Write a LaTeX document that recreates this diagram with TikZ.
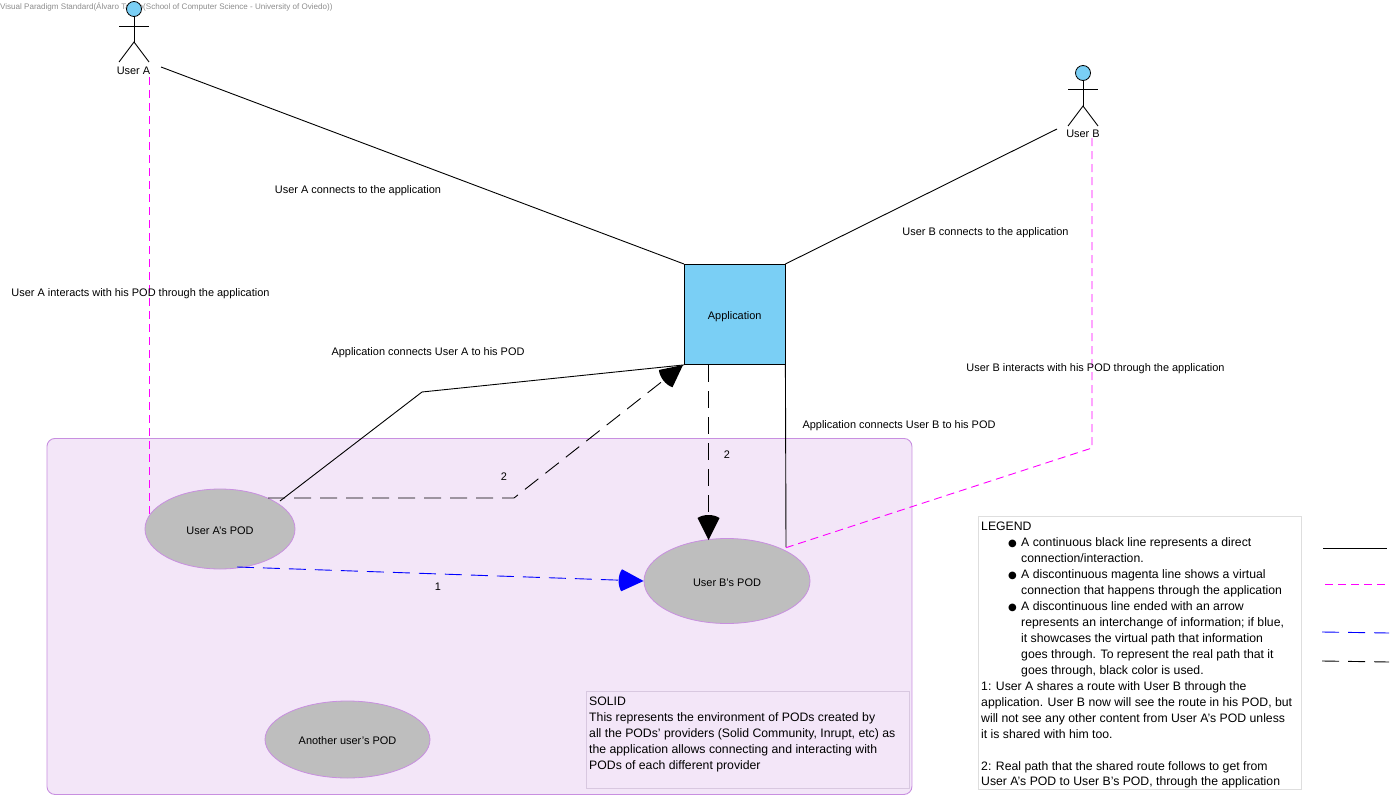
\documentclass[tikz,border=0pt]{standalone}
\usepackage{fontspec}
\setmainfont{Liberation Sans}
\newfontfamily\bulfont{DejaVu Sans}
\usetikzlibrary{arrows.meta,shapes.geometric}
\definecolor{appblue}{HTML}{7ACFF5}
\definecolor{solidfill}{HTML}{F3E6F8}
\definecolor{solidedge}{HTML}{C88FE0}
\definecolor{podfill}{HTML}{BEBEBE}
\definecolor{notedge}{HTML}{D8C8E0}
\definecolor{legedge}{HTML}{DEDEDE}
\definecolor{virt}{HTML}{FF00FF}
\definecolor{wm}{HTML}{8C8C8C}
\pgfdeclarearrow{
  name=Cone,
  setup code={\pgfarrowssettipend{0pt}\pgfarrowssetlineend{-22pt}\pgfarrowssetbackend{-25pt}\pgfarrowssetvisualbackend{-20pt}},
  drawing code={
    \pgfpathmoveto{\pgfpoint{0pt}{0pt}}
    \pgfpathlineto{\pgfpoint{-22pt}{11pt}}
    \pgfpathcurveto{\pgfpoint{-26pt}{5pt}}{\pgfpoint{-26pt}{-5pt}}{\pgfpoint{-22pt}{-11pt}}
    \pgfpathclose
    \pgfusepathqfill
  },
  parameters={1}
}
\tikzset{
  txt/.style={font=\fontsize{10.95}{14}\selectfont, inner sep=0pt, text=black},
  conn/.style={draw=black, line width=0.9pt},
  virtual/.style={draw=virt, line width=0.9pt, dash pattern=on 8pt off 5pt},
  info/.style={line width=0.9pt, dash pattern=on 17pt off 9pt},
  pod/.style={ellipse, draw=solidedge, fill=podfill, line width=0.8pt, inner sep=0pt, font=\fontsize{10.95}{14}\selectfont, text height=10pt, text depth=0pt},
  head/.style={circle, draw=black, fill=appblue, line width=0.8pt, minimum size=15pt, inner sep=0pt},
  limb/.style={draw=black, line width=0.9pt},
  blocktxt/.style={txt, align=left, anchor=north west, font=\fontsize{12.25}{15.95}\selectfont}
}
\newcommand{\bul}{\makebox[13pt][l]{\bulfont\fontsize{10}{10}\selectfont ●}}
\begin{document}
\begin{tikzpicture}[x=1pt,y=-1pt]
\useasboundingbox (0,0) rectangle (1398,800);
% SOLID environment
\node[draw=solidedge, fill=solidfill, line width=0.9pt, rounded corners=8pt, minimum width=865pt, minimum height=356pt, inner sep=0pt, anchor=north west] (solid) at (46.5,438) {};
\node[draw=notedge, fill=solidfill, line width=0.7pt, minimum width=323pt, minimum height=97pt, inner sep=0pt, anchor=north west] (solidnote) at (586,691) {};
\node[blocktxt] (solidtext) at (589,697) {SOLID\\This represents the environment of PODs created by\\all the PODs' providers (Solid Community, Inrupt, etc) as\\the application allows connecting and interacting with\\PODs of each different provider};
% watermark
\node[font=\fontsize{8.05}{10}\selectfont, text=wm, inner sep=0pt, anchor=west] (wmark) at (0,7) {Visual Paradigm Standard(Álvaro Tango(School of Computer Science - University of Oviedo))};
% Application
\node[draw=black, fill=appblue, line width=0.9pt, minimum width=100.5pt, minimum height=100pt, inner sep=0pt, anchor=north west, font=\fontsize{10.95}{14}\selectfont, text height=10pt, text depth=0pt] (app) at (684,264) {Application};
% Actors
\node[head] (headA) at (134,9) {};
\coordinate (hipA) at (134,42);
\draw[limb] (headA.south) -- (hipA);
\draw[limb] (119,26) -- (149,26);
\draw[limb] (119,62) -- (hipA) -- (149,62);
\node[txt] (userA) at (133.5,70.5) {User A};
\node[head] (headB) at (1083,73) {};
\coordinate (hipB) at (1083,106);
\draw[limb] (headB.south) -- (hipB);
\draw[limb] (1068,89) -- (1098,89);
\draw[limb] (1068,126) -- (hipB) -- (1098,126);
\node[txt] (userB) at (1083,133.5) {User B};
% PODs
\node[pod, minimum width=150pt, minimum height=80pt] (podA) at (220,529) {User A's POD};
\node[pod, minimum width=166pt, minimum height=85pt] (podB) at (727,581) {User B's POD};
\node[pod, minimum width=165pt, minimum height=77pt] (podO) at (347.5,739.5) {Another user's POD};
% free ends
\coordinate (aR) at (161,67);
\coordinate (bL) at (1057,129);
\coordinate (aD) at (149,77);
\coordinate (aDe) at (149,516);
\coordinate (bD) at (1092,138);
\coordinate (bBend) at (1092,448);
\coordinate (podBm) at (785,548);
\coordinate (podBs) at (786,547);
\coordinate (podAs) at (280,501);
\coordinate (aBend) at (422,392);
\coordinate (dStart) at (268,498);
\coordinate (dBend) at (514,498);
\coordinate (appTip) at (683,365);
\coordinate (appBot) at (708.5,365);
\coordinate (podBtop) at (708.5,540);
\coordinate (podAb) at (237,567);
% connectors
\draw[conn] (aR) -- (app.north west);
\draw[conn] (bL) -- (app.north east);
\draw[conn] (podAs) -- (aBend) -- (app.south west);
\draw[conn] (app.south east) -- (podBs);
\draw[virtual] (aD) -- (aDe);
\draw[virtual] (bD) -- (bBend) -- (podBm);
\draw[info, draw=black, -{Cone}] (dStart) -- (dBend) -- (appTip);
\draw[info, draw=black, -{Cone}] (appBot) -- (podBtop);
\draw[info, draw=blue, -{Cone[]}, blue] (podAb) -- (podB.west);
% labels
\node[txt] (l1) at (358,190.7) {User A connects to the application};
\node[txt] (l2) at (985.5,232.7) {User B connects to the application};
\node[txt] (l3) at (140.5,293.7) {User A interacts with his POD through the application};
\node[txt] (l4) at (428,352.2) {Application connects User A to his POD};
\node[txt] (l5) at (1095.5,368.7) {User B interacts with his POD through the application};
\node[txt] (l6) at (899,425.7) {Application connects User B to his POD};
\node[txt] (n2a) at (504,476.5) {2};
\node[txt] (n2b) at (727,454.5) {2};
\node[txt] (n1) at (438,586.5) {1};
% legend
\node[draw=legedge, fill=white, line width=0.8pt, minimum width=323pt, minimum height=273pt, inner sep=0pt, anchor=north west] (legend) at (978,516) {};
\node[blocktxt] (legtext) at (981,522) {LEGEND\\
\hspace*{27pt}\bul A continuous black line represents a direct\\
\hspace*{40pt}connection/interaction.\\
\hspace*{27pt}\bul A discontinuous magenta line shows a virtual\\
\hspace*{40pt}connection that happens through the application\\
\hspace*{27pt}\bul A discontinuous line ended with an arrow\\
\hspace*{40pt}represents an interchange of information; if blue,\\
\hspace*{40pt}it showcases the virtual path that information\\
\hspace*{40pt}goes through. To represent the real path that it\\
\hspace*{40pt}goes through, black color is used.\\
1: User A shares a route with User B through the\\
application. User B now will see the route in his POD, but\\
will not see any other content from User A's POD unless\\
it is shared with him too.\\
\mbox{}\\
2: Real path that the shared route follows to get from\\
User A's POD to User B's POD, through the application};
% legend samples
\coordinate (s1a) at (1323,548); \coordinate (s1b) at (1387,548);
\coordinate (s2a) at (1325,584); \coordinate (s2b) at (1387,584);
\coordinate (s3a) at (1322,632); \coordinate (s3b) at (1389,633);
\coordinate (s4a) at (1322,661); \coordinate (s4b) at (1389,662);
\draw[conn] (s1a) -- (s1b);
\draw[virtual] (s2a) -- (s2b);
\draw[info, draw=blue] (s3a) -- (s3b);
\draw[info, draw=black] (s4a) -- (s4b);
\end{tikzpicture}
\end{document}
